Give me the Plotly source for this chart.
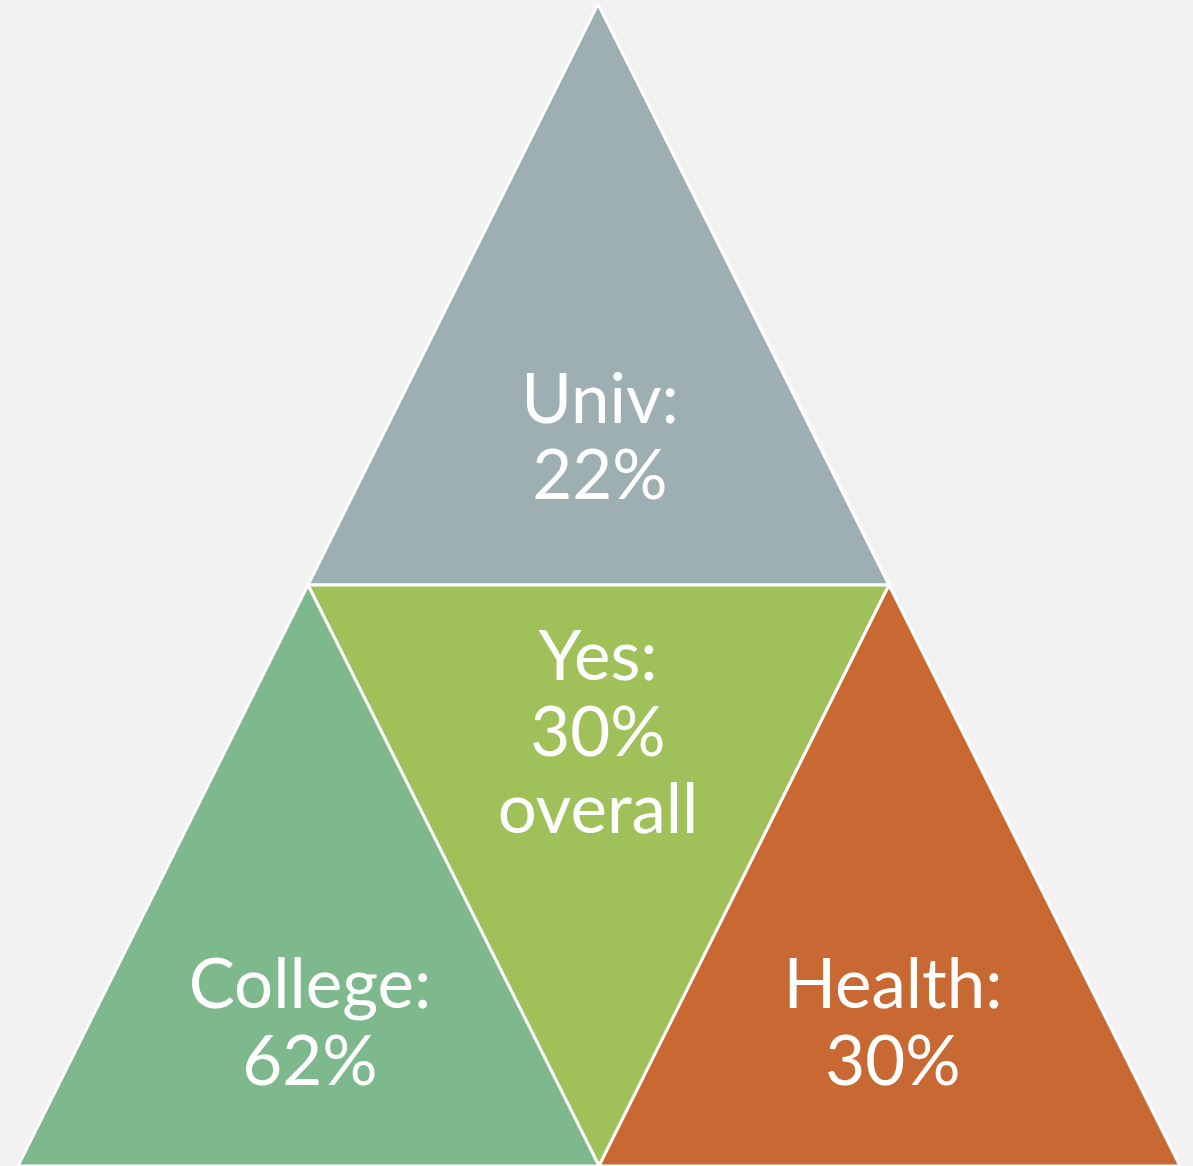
import plotly.graph_objects as go

# Data
categories = ["Univ", "Yes", "College", "Health"]
values = [22, 30, 62, 30]
suffixes = ["", "overall", "", ""]
colors = ["#9EAFB4", "#A0C05A", "#7EB88D", "#C86832"]

W, H = 1193, 1166
# big triangle layout (pixel space)
apex = (598, 4)
base_left = (18, 1166)
base_right = (1180, 1166)

def mid(a, b):
    return ((a[0] + b[0]) / 2, (a[1] + b[1]) / 2)

mL = mid(apex, base_left)
mR = mid(apex, base_right)
mB = mid(base_left, base_right)

tris = {
    "Univ": [apex, mR, mL],
    "Yes": [mL, mR, mB],
    "College": [mL, mB, base_left],
    "Health": [mR, base_right, mB],
}

fig = go.Figure()
for cat, col in zip(categories, colors):
    pts = tris[cat]
    xs = [p[0] for p in pts] + [pts[0][0]]
    ys = [p[1] for p in pts] + [pts[0][1]]
    fig.add_trace(go.Scatter(x=xs, y=ys, fill="toself", fillcolor=col, mode="lines",
                             line=dict(color="white", width=3), hoverinfo="skip",
                             showlegend=False))

# label positions: line centers
label_pos = {
    "Univ": (600, [406, 482]),
    "Yes": (598, [663, 739, 816]),
    "College": (310, [991, 1068]),
    "Health": (893, [991, 1068]),
}

for cat, val, suf in zip(categories, values, suffixes):
    lines = [f"{cat}:", f"{val}%"] + ([suf] if suf else [])
    x0, ys = label_pos[cat]
    fig.add_trace(go.Scatter(x=[x0] * len(lines), y=ys, mode="text", text=lines,
                             textposition="middle center",
                             textfont=dict(family="Lato", size=69, color="white"),
                             hoverinfo="skip", showlegend=False))

fig.update_layout(
    width=W, height=H,
    margin=dict(l=0, r=0, t=0, b=0),
    paper_bgcolor="#F2F2F2", plot_bgcolor="#F2F2F2",
    xaxis=dict(range=[0, W], visible=False, fixedrange=True),
    yaxis=dict(range=[H, 0], visible=False, fixedrange=True),
)

fig.write_html("out.html", config={"displayModeBar": False},
               post_script="document.body.style.margin='0';document.body.style.background='#F2F2F2';document.body.style.overflow='hidden';")
